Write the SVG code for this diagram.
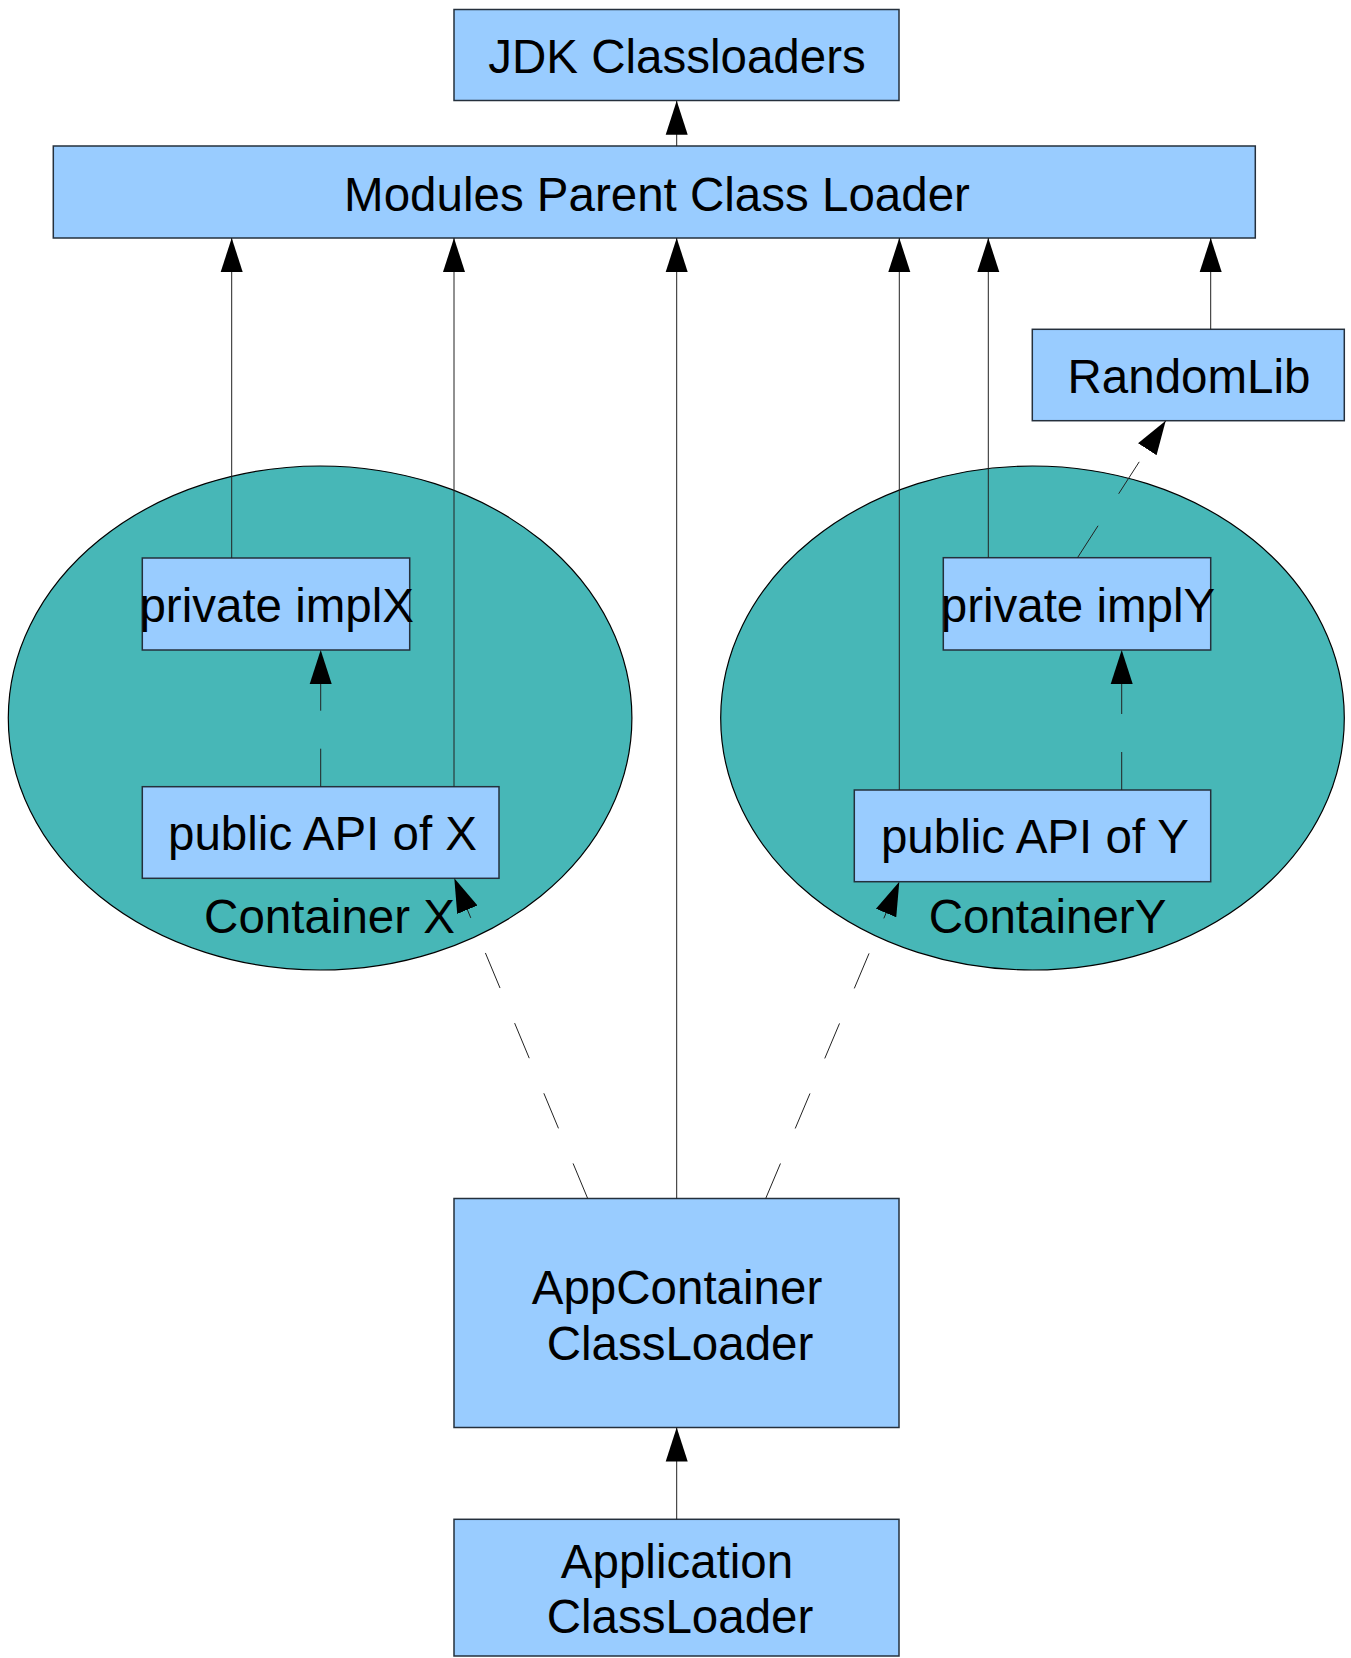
<svg xmlns="http://www.w3.org/2000/svg" width="1351" height="1658" viewBox="0 0 1351 1658">
<style>
.box{fill:#99ccff;stroke:#25303c;stroke-width:1.5}
.ell{fill:#47b7b7;stroke:#000;stroke-width:1.2}
.t{font-family:'Liberation Sans',Arial,sans-serif;font-size:47.5px;fill:#000;text-anchor:middle}
.c{stroke:#222;stroke-width:1;fill:none;marker-end:url(#ah)}
.d{stroke-dasharray:38 38}
</style>
<defs>
<marker id="ah" markerUnits="userSpaceOnUse" markerWidth="36" markerHeight="24" viewBox="0 -12 36 24" refX="34" refY="0" orient="auto">
<path d="M0,-11 L34,0 L0,11 z" fill="#000"/>
</marker>
</defs>
<rect width="1351" height="1658" fill="#fff"/>
<g id="containerX">
<ellipse class="ell" cx="320.1" cy="718" rx="311.8" ry="252"/>
<text class="t" x="329.5" y="933.3">Container X</text>
</g>
<g id="containerY">
<ellipse class="ell" cx="1032.5" cy="718" rx="311.8" ry="252"/>
<text class="t" x="1047.5" y="933.3">ContainerY</text>
</g>
<g id="jdk">
<rect class="box" x="454" y="9.5" width="445" height="91"/>
<text class="t" x="677" y="72.7">JDK Classloaders</text>
</g>
<g id="modules">
<rect class="box" x="53.3" y="146" width="1202" height="92"/>
<text class="t" x="657" y="211">Modules Parent Class Loader</text>
</g>
<g id="randomlib">
<rect class="box" x="1032.3" y="329.3" width="312" height="91.4"/>
<text class="t" x="1189" y="393.3">RandomLib</text>
</g>
<g id="privateX">
<rect class="box" x="142.3" y="558" width="267.4" height="92"/>
<text class="t" x="276.7" y="621.7">private implX</text>
</g>
<g id="publicX">
<rect class="box" x="142.3" y="786.7" width="356.7" height="91.6"/>
<text class="t" x="322.5" y="850">public API of X</text>
</g>
<g id="privateY">
<rect class="box" x="943.3" y="557.7" width="267.4" height="92.3"/>
<text class="t" x="1078" y="621.7">private implY</text>
</g>
<g id="publicY">
<rect class="box" x="854.3" y="790" width="356.4" height="91.7"/>
<text class="t" x="1035" y="853.3">public API of Y</text>
</g>
<g id="appContainer">
<rect class="box" x="454" y="1198.5" width="445" height="229"/>
<text class="t" x="677" y="1304">AppContainer</text>
<text class="t" x="680" y="1360">ClassLoader</text>
</g>
<g id="application">
<rect class="box" x="454" y="1519.3" width="445" height="136.7"/>
<text class="t" x="677" y="1578.3">Application</text>
<text class="t" x="680" y="1633.3">ClassLoader</text>
</g>
<g id="connectors">
<path class="c" d="M676.7,146 L676.7,100.7"/>
<path class="c" d="M231.7,558 L231.7,238"/>
<path class="c" d="M454,786.7 L454,238"/>
<path class="c" d="M676.7,1198.5 L676.7,238"/>
<path class="c" d="M899.3,790 L899.3,238"/>
<path class="c" d="M988.3,557.7 L988.3,238"/>
<path class="c" d="M1210.7,329.3 L1210.7,238"/>
<path class="c" d="M676.7,1519.3 L676.7,1427.5"/>
<path class="c d" d="M320.7,786.7 L320.7,650"/>
<path class="c d" d="M1121.7,790 L1121.7,650"/>
<path class="c d" d="M587.7,1198.5 L454.3,878.3"/>
<path class="c d" d="M765.7,1198.5 L899.3,881.7"/>
<path class="c d" d="M1077.5,557.7 L1165.7,420.7"/>
</g>
</svg>
